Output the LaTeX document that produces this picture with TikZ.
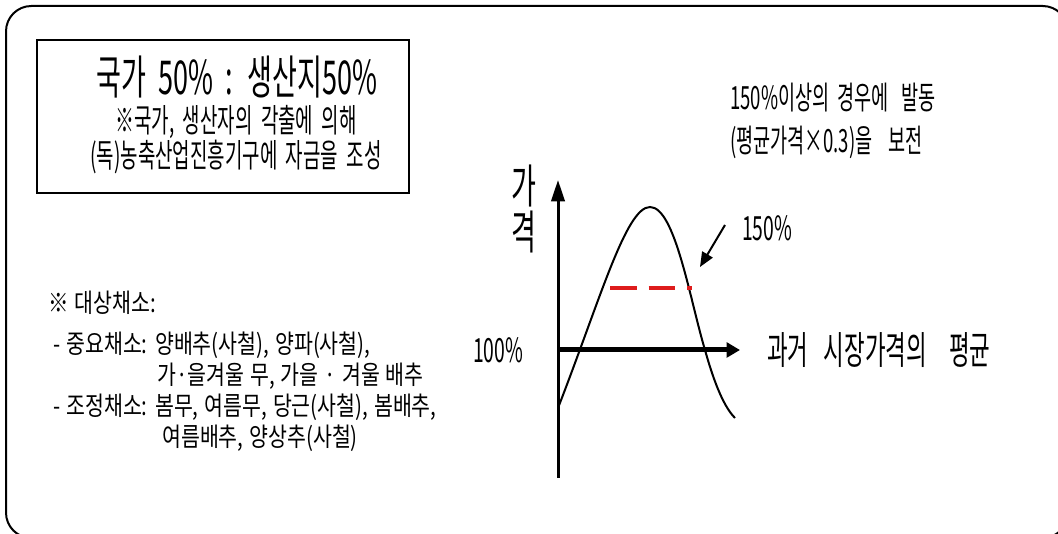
\documentclass[tikz,border=0pt]{standalone}
\usepackage{fontspec}
\newfontfamily\krt[FakeStretch=0.58]{Noto Sans CJK KR}
\newfontfamily\krn[FakeStretch=0.58, WordSpace=2]{Noto Sans CJK KR}
\newfontfamily\krw[FakeStretch=0.79, WordSpace=1.3]{Noto Sans CJK KR}
\usetikzlibrary{arrows.meta}
\definecolor{hot}{RGB}{222,28,28}

\begin{document}
\begin{tikzpicture}[
            x=0.75pt, y=-0.75pt,
            big/.style={inner sep=0pt, font=\krt\fontsize{35}{41}\selectfont},
            small/.style={inner sep=0pt, font=\krn\fontsize{24.5}{28}\selectfont},
            list/.style={inner sep=0pt, anchor=west, font=\krw\fontsize{19.5}{23}\selectfont},
            pct/.style={inner sep=0pt, font=\krt\fontsize{25}{29}\selectfont},
            axis/.style={line width=2.25pt, -{Triangle[length=16pt, width=10pt]}}
        ]
            \useasboundingbox (0,0) rectangle (1058,534);
            \clip (0,0) rectangle (1058,534);
            \draw[line width=1.5pt, rounded corners=19pt] (6,6) rectangle (1068,538);

            % funding box
            \node[draw, line width=1.5pt, minimum width=279pt, minimum height=114.75pt] (fund) at (223,116.5) {};
            \node[big]   (share) at (237,77)  {국가 50\% : 생산지50\%};
            \node[small] (note1) at (236,122) {※국가, 생산자의 각출에 의해};
            \node[small] (note2) at (236,157) {(독)농축산업진흥기구에 자금을 조성};

            % target vegetables
            \node[list] (veg)   at (48,303)  {※ 대상채소:};
            \node[list] (main)  at (53,345)  {- 중요채소: 양배추(사철), 양파(사철),};
            \node[list] (main2) at (157,376) {가·을겨울 무, 가을 · 겨울 배추};
            \node[list] (adj)   at (53,407)  {- 조정채소: 봄무, 여름무, 당근(사철), 봄배추,};
            \node[list] (adj2)  at (162,438) {여름배추, 양상추(사철)};

            % price chart
            \coordinate (o)    at (558,350);
            \coordinate (ytop) at (558,180);
            \coordinate (ybot) at (558,478);
            \coordinate (xend) at (740,350);
            \draw[axis] (ybot) -- (ytop);
            \draw[axis, line width=3.75pt, -{Triangle[length=10pt, width=11pt]}] (o) -- (xend);
            \draw[line width=1.5pt] (558,408) .. controls (600,300) and (626,207) .. (650,207)
                .. controls (675,207) and (690,300) .. (705,350)
                .. controls (712,375) and (722,405) .. (735,418);
            \draw[hot, line width=3pt, dash pattern=on 20pt off 9pt] (610,288) -- (692,288);

            \node[big] (ga)    at (524,186) {가};
            \node[big] (gyeok) at (524,232) {격};
            \node[pct] (p100)  at (498,350) {100\%};
            \node[pct] (p150)  at (767,228) {150\%};
            \node[small, font=\krn\fontsize{29}{34}\selectfont, anchor=west] (avg) at (767,350)
                {과거\hspace{4pt} 시장가격의\hspace{9pt} 평균};
            \node[small, font=\krn\fontsize{24}{28}\selectfont, anchor=west] (rule1) at (730,98)
                {150\%이상의 경우에\hspace{3pt} 발동};
            \node[small, font=\krn\fontsize{24}{28}\selectfont, anchor=west] (rule2) at (730,142)
                {(평균가격×0.3)을\hspace{6pt} 보전};

            \coordinate (from) at (725,225);
            \coordinate (tip)  at (700,267);
            \draw[line width=1.5pt, -{Triangle[length=11pt, width=9pt]}] (from) -- (tip);
        \end{tikzpicture}
\end{document}
